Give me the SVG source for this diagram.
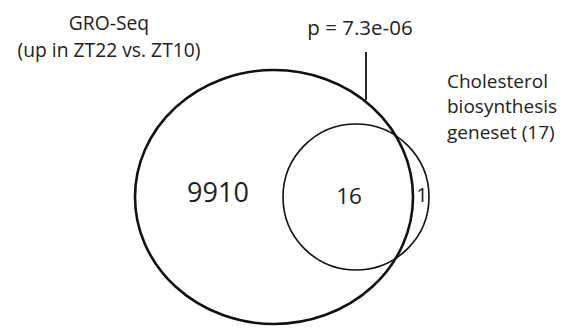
<svg xmlns="http://www.w3.org/2000/svg" width="581" height="328" viewBox="0 0 581 328">
<style>
text{font-family:"Open Sans","Liberation Sans",sans-serif;fill:#222}
.lbl{font-size:19.3px}
.side{font-size:19px}
</style>
<rect width="581" height="328" fill="#fff"/>
<g id="gro-seq">
<ellipse cx="274" cy="197" rx="139" ry="127" fill="none" stroke="#111" stroke-width="2.6"/>
<text class="lbl" x="109" y="30" text-anchor="middle">GRO-Seq</text>
<text class="lbl" x="109" y="57" text-anchor="middle">(up in ZT22 vs. ZT10)</text>
<text x="218" y="202" text-anchor="middle" font-size="27">9910</text>
</g>
<g id="cholesterol">
<circle cx="356" cy="197" r="73" fill="none" stroke="#111" stroke-width="1.6"/>
<text class="side" x="447" y="88">Cholesterol</text>
<text class="side" x="447" y="113">biosynthesis</text>
<text class="side" x="447" y="139">geneset (17)</text>
<text x="349" y="204" text-anchor="middle" font-size="22.5">16</text>
<text x="422" y="202" text-anchor="middle" font-size="20">1</text>
</g>
<g id="connectors">
<line x1="366" y1="52" x2="366" y2="100" stroke="#111" stroke-width="1.8"/>
<text x="360" y="35" text-anchor="middle" font-size="20.5">p = 7.3e-06</text>
</g>
</svg>
